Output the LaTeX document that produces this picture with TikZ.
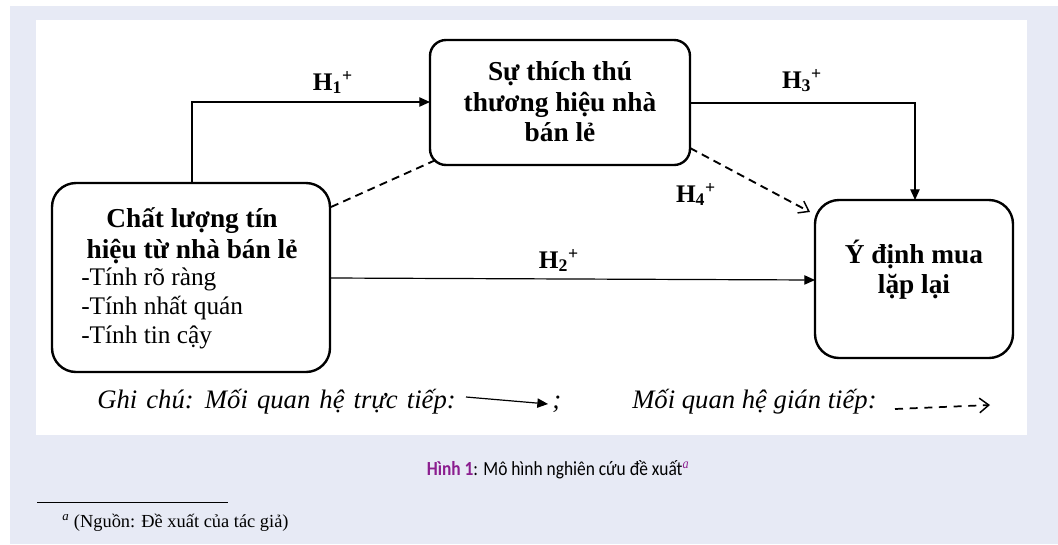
\documentclass[tikz,border=0pt]{standalone}
\usepackage{fontspec}
\setmainfont{Liberation Serif}
\newfontfamily\capfont{Carlito}
\usetikzlibrary{arrows.meta}

\definecolor{pagebg}{HTML}{E7EAF5}
\definecolor{figpurple}{HTML}{8B1E8F}

\tikzset{
  box/.style={draw, line width=1.8pt, rounded corners=12pt},
  boldline/.style={anchor=base, inner sep=0pt, font=\bfseries\fontsize{20.5}{23}\selectfont},
  itemline/.style={anchor=base west, inner sep=0pt, font=\fontsize{19}{22}\selectfont},
  hyp/.style={anchor=base, inner sep=0pt, font=\bfseries\fontsize{19}{22}\selectfont},
  note/.style={anchor=base west, inner sep=0pt, font=\itshape\fontsize{20}{22}\selectfont},
  direct/.style={line width=0.9pt, -{Triangle[length=8pt,width=7pt]}},
  indirect/.style={line width=1.4pt, dash pattern=on 6pt off 4pt, -{Straight Barb[length=7pt,width=10pt,line width=1.1pt]}},
}

\begin{document}
\begin{tikzpicture}[x=0.75pt, y=-0.75pt]
  % page and figure panel
  \fill[white] (0,0) rectangle (1058,544);
  \fill[pagebg] (10,6) rectangle (1058,544);
  \fill[white] (36,20) rectangle (1027,435);
  \useasboundingbox (0,0) rectangle (1058,544);
  %
  \draw[box, rounded corners=18pt] (52,183) rectangle (330,372);   % quality box
  \node[boldline] (qual1) at (192,227) {Chất lượng tín};
  \node[boldline] (qual2) at (192,258) {hiệu từ nhà bán lẻ};
  \node[itemline] (qual3) at (81,285) {-Tính rõ ràng};
  \node[itemline] (qual4) at (81,314) {-Tính nhất quán};
  \node[itemline] (qual5) at (81,343) {-Tính tin cậy};
  \coordinate (qA) at (192,183);
  \coordinate (qB) at (331,207);
  \coordinate (qC) at (330,278);
  %
  \draw[box] (430,40) rectangle (690,165);   % liking box
  \node[boldline] (like1) at (560,80) {Sự thích thú};
  \node[boldline] (like2) at (560,111) {thương hiệu nhà};
  \node[boldline] (like3) at (560,141) {bán lẻ};
  \coordinate (lA) at (430,102);
  \coordinate (lB) at (690,103);
  \coordinate (lC) at (438,159);
  \coordinate (lD) at (690,148);
  %
  \draw[box, rounded corners=18pt] (815,200) rectangle (1013,358);   % intention box
  \node[boldline] (intent1) at (914,263) {Ý định mua};
  \node[boldline] (intent2) at (914,293) {lặp lại};
  \coordinate (iA) at (915,200);
  \coordinate (iB) at (815,280);
  \coordinate (iC) at (810,212);
  %
  % hypotheses
  \draw[direct] (qA) |- (lA);
  \node[hyp] (h1) at (333,90) {H\textsubscript{1}\textsuperscript{+}};
  \draw[direct] (lB) -| (iA);
  \node[hyp] (h3) at (802,88) {H\textsubscript{3}\textsuperscript{+}};
  \draw[direct] (qC) -- (iB);
  \node[hyp] (h2) at (559,268) {H\textsubscript{2}\textsuperscript{+}};
  \draw[line width=1.4pt, dash pattern=on 6pt off 4pt] (qB) -- (lC);
  \draw[indirect] (lD) -- (iC);
  \node[hyp] (h4) at (696,202) {H\textsubscript{4}\textsuperscript{+}};
  %
  % legend
  \node[note] (note1) at (97,408) {\spaceskip=6.8pt Ghi chú: Mối quan hệ trực tiếp:};
  \coordinate (d1) at (466,397);
  \coordinate (d2) at (548,404);
  \draw[direct] (d1) -- (d2);
  \node[note] (semi) at (552,408) {;};
  \node[note] (note2) at (632,408) {Mối quan hệ gián tiếp:};
  \coordinate (e1) at (895,409);
  \coordinate (e2) at (990,405);
  \draw[line width=1.3pt, dash pattern=on 6pt off 5pt, -{Straight Barb[length=7pt,width=11pt,line width=1.1pt]}] (e1) -- (e2);
  %
  % caption and footnote
  \node[anchor=base, inner sep=0pt, xscale=0.87, font=\capfont\fontsize{15}{18}\selectfont] (cap) at (558,475)
    {\textcolor{figpurple}{\bfseries Hình 1}: Mô hình nghiên cứu đề xuất\textsuperscript{\textcolor{figpurple}{\rmfamily\itshape a}}};
  \draw[line width=0.6pt] (37,502) -- (228,502);
  \node[anchor=base west, inner sep=0pt, font=\fontsize{13.8}{16}\selectfont] (src) at (62,527)
    {\textsuperscript{\itshape a} (Nguồn: Đề xuất của tác giả)};
\end{tikzpicture}
\end{document}
